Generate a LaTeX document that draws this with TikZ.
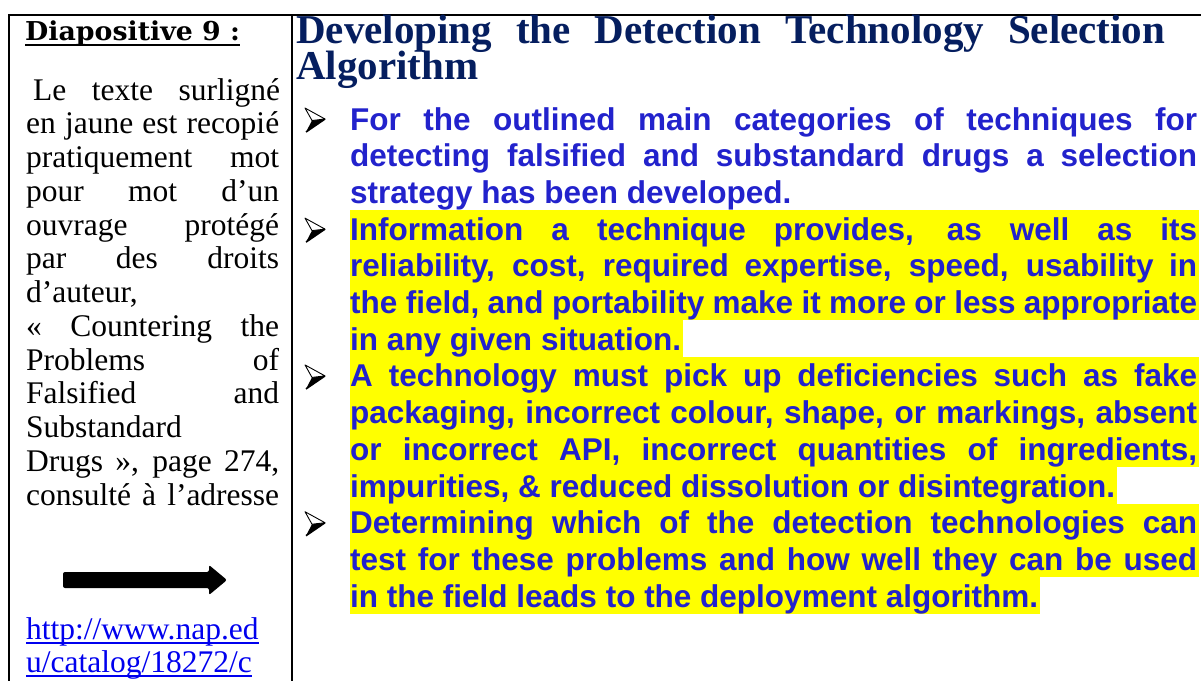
\documentclass[tikz,border=0pt]{standalone}
\usepackage{fontspec}
\setmainfont{Liberation Serif}
\newfontfamily\arialf{Liberation Sans}
\newfontfamily\headf{DejaVu Serif}[FakeStretch=1.03]
\usetikzlibrary{calc}
\pgfdeclarelayer{bg}
\pgfsetlayers{bg,main}
\definecolor{navy}{RGB}{5,30,95}
\definecolor{bodyblue}{RGB}{34,34,204}
\definecolor{hilite}{RGB}{255,255,0}
\definecolor{linkblue}{RGB}{0,0,238}
\newcommand{\jleft}[1]{\makebox[253pt][s]{#1}}
\newcommand{\jright}[1]{\makebox[847pt][s]{#1}}
\tikzset{
  frameline/.style={line width=2pt, black},
  headtxt/.style={anchor=base west, inner sep=0pt, font=\headf\bfseries\fontsize{26}{30}\selectfont},
  lefttxt/.style={anchor=base west, inner sep=0pt, font=\fontsize{31.5}{33.7}\selectfont},
  linktxt/.style={lefttxt, text=linkblue},
  titletxt/.style={anchor=base west, inner sep=0pt, text=navy, font=\bfseries\fontsize{41}{36}\selectfont},
  bodytxt/.style={anchor=base west, inner sep=0pt, text=bodyblue, font=\arialf\bfseries\fontsize{31.5}{36.7}\selectfont},
  bulletmark/.pic={
    \fill[black] (7,-9.5) -- (20,-11) -- (1,2) -- cycle;
    \filldraw[fill=white, draw=black, line width=0.9pt, line join=round] (0,-22) -- (20,-11) -- (7,-9.5) -- cycle;
    \draw[black, line width=1.6pt, line join=round] (20,-11) -- (1,2);
  },
}
\begin{document}
\begin{tikzpicture}[x=1pt, y=-1pt]
\useasboundingbox (0,0) rectangle (1201,681);
% frame
\draw[frameline] (9,15) -- (1201,15);
\draw[frameline] (9,14) -- (9,681);
\draw[frameline] (292,14) -- (292,681);

% left column
\node[headtxt] (head) at (25,40) {Diapositive 9 :};
\draw[line width=2pt] ([yshift=-4.5pt]head.base west) -- ([yshift=-4.5pt]head.base east);

\node[lefttxt] (l1) at (33,100) {\makebox[247pt][s]{Le texte surligné}};
\node[lefttxt] (l2) at (26,133.75) {\jleft{en jaune est recopié}};
\node[lefttxt] (l3) at (26,167.5) {\jleft{pratiquement mot}};
\node[lefttxt] (l4) at (26,201.25) {\jleft{pour mot d’un}};
\node[lefttxt] (l5) at (26,235) {\jleft{ouvrage protégé}};
\node[lefttxt] (l6) at (26,268.75) {\jleft{par des droits}};
\node[lefttxt] (l7) at (26,302.5) {d’auteur,};
\node[lefttxt] (l8) at (26,336.25) {\jleft{« Countering the}};
\node[lefttxt] (l9) at (26,370) {\jleft{Problems of}};
\node[lefttxt] (l10) at (26,403.75) {\jleft{Falsified and}};
\node[lefttxt] (l11) at (26,437.5) {Substandard};
\node[lefttxt] (l12) at (26,471.25) {\jleft{Drugs », page 274,}};
\node[lefttxt] (l13) at (26,505) {\jleft{consulté à l’adresse}};

\fill[black, rounded corners=2pt] (63,572) -- (209,572) -- (209,565) -- (227,580) -- (209,595) -- (209,588) -- (63,588) -- cycle;

\node[linktxt] (u1) at (26,639) {http://www.nap.ed};
\node[linktxt] (u2) at (26,672) {u/catalog/18272/c};
\draw[linkblue, line width=1.5pt] ([yshift=-4pt]u1.base west) -- ([yshift=-4pt]u1.base east);
\draw[linkblue, line width=1.5pt] ([yshift=-4pt]u2.base west) -- ([yshift=-4pt]u2.base east);

% title
\node[titletxt] (title1) at (296,43) {\makebox[869pt][s]{Developing the Detection Technology Selection}};
\node[titletxt] (title2) at (296,79) {Algorithm};

% bullets
\node[bodytxt] (b1) at (350,130) {\jright{For the outlined main categories of techniques for}};
\node[bodytxt] (b2) at (350,166.7) {\jright{detecting falsified and substandard drugs a selection}};
\node[bodytxt] (b3) at (350,203.4) {strategy has been developed.};
\node[bodytxt] (b4) at (350,240.1) {\jright{Information a technique provides, as well as its}};
\node[bodytxt] (b5) at (350,276.8) {\jright{reliability, cost, required expertise, speed, usability in}};
\node[bodytxt] (b6) at (350,313.5) {\jright{the field, and portability make it more or less appropriate}};
\node[bodytxt] (b7) at (350,350.2) {in any given situation.};
\node[bodytxt] (b8) at (350,386.9) {\jright{A technology must pick up deficiencies such as fake}};
\node[bodytxt] (b9) at (350,423.6) {\jright{packaging, incorrect colour, shape, or markings, absent}};
\node[bodytxt] (b10) at (350,460.3) {\jright{or incorrect API, incorrect quantities of ingredients,}};
\node[bodytxt] (b11) at (350,497) {impurities, \& reduced dissolution or disintegration.};
\node[bodytxt] (b12) at (350,533.7) {\jright{Determining which of the detection technologies can}};
\node[bodytxt] (b13) at (350,570.4) {\jright{test for these problems and how well they can be used}};
\node[bodytxt] (b14) at (350,607.1) {in the field leads to the deployment algorithm.};

\begin{pgfonlayer}{bg}
\foreach \n in {4,...,14} {
  \fill[hilite] ($(b\n.base west)+(0,-30)$) rectangle ($(b\n.base east)+(2,6.7)$);
}
\end{pgfonlayer}

\pic at ($(b1.base west)+(-45,0)$) {bulletmark};
\pic at ($(b4.base west)+(-45,0)$) {bulletmark};
\pic at ($(b8.base west)+(-45,0)$) {bulletmark};
\pic at ($(b12.base west)+(-45,0)$) {bulletmark};
\end{tikzpicture}
\end{document}
